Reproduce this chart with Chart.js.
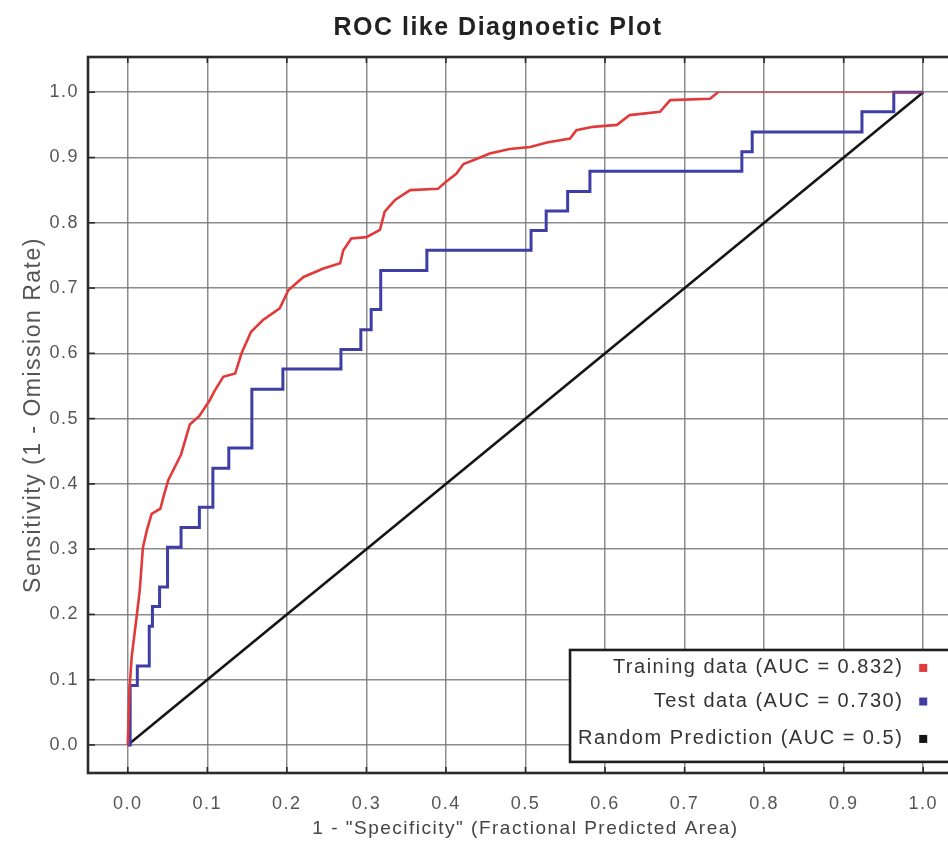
<!DOCTYPE html>
<html>
<head>
<meta charset="utf-8">
<title>ROC like Diagnoetic Plot</title>
<script src="https://cdn.jsdelivr.net/npm/chart.js@4/dist/chart.umd.min.js"></script>
<style>
  html, body { margin: 0; padding: 0; background: #ffffff; overflow: hidden; }
  #wrap { width: 948px; height: 845px; overflow: hidden; }
  canvas { display: block; }
</style>
</head>
<body>
<div id="wrap"><canvas id="roc" width="996" height="845"></canvas></div>
<script>
// Training curve (1 - specificity, sensitivity)
const trainFpr = [0, 0.002, 0.005, 0.010, 0.015, 0.019, 0.024, 0.030, 0.041, 0.046, 0.051, 0.067,
  0.078, 0.090, 0.103, 0.109, 0.120, 0.135, 0.143, 0.155, 0.170, 0.191, 0.202, 0.221, 0.246,
  0.267, 0.271, 0.281, 0.300, 0.317, 0.323, 0.336, 0.355, 0.390, 0.400, 0.413, 0.422, 0.439,
  0.455, 0.480, 0.506, 0.527, 0.556, 0.564, 0.585, 0.615, 0.631, 0.669, 0.682, 0.732, 0.742, 1.000];
const trainTpr = [0, 0.083, 0.136, 0.185, 0.236, 0.302, 0.329, 0.354, 0.362, 0.385, 0.406, 0.445,
  0.491, 0.504, 0.528, 0.542, 0.564, 0.569, 0.600, 0.633, 0.651, 0.669, 0.697, 0.717, 0.730,
  0.738, 0.758, 0.776, 0.778, 0.789, 0.817, 0.835, 0.850, 0.852, 0.863, 0.875, 0.890, 0.898,
  0.906, 0.913, 0.916, 0.923, 0.929, 0.942, 0.947, 0.950, 0.965, 0.970, 0.988, 0.990, 1.000, 1.000];

// Test curve: corner points of the step function
const testFpr = [0, 0.003, 0.012, 0.027, 0.031, 0.040, 0.050, 0.067, 0.090, 0.107, 0.127, 0.156,
  0.195, 0.268, 0.293, 0.306, 0.318, 0.376, 0.507, 0.526, 0.553, 0.581, 0.772, 0.785, 0.923, 0.963, 1.000];
const testTpr = [0, 0.091, 0.121, 0.182, 0.212, 0.242, 0.303, 0.333, 0.364, 0.424, 0.455, 0.545,
  0.576, 0.606, 0.636, 0.667, 0.727, 0.758, 0.788, 0.818, 0.848, 0.879, 0.909, 0.939, 0.970, 1.000, 1.000];

// Random prediction diagonal
const randomFpr = [0, 1];
const randomTpr = [0, 1];

const seriesLabels = ['Training data (AUC = 0.832)', 'Test data (AUC = 0.730)', 'Random Prediction (AUC = 0.5)'];
const tickValues = [0, 0.1, 0.2, 0.3, 0.4, 0.5, 0.6, 0.7, 0.8, 0.9, 1.0];
const tickLabels = ['0.0', '0.1', '0.2', '0.3', '0.4', '0.5', '0.6', '0.7', '0.8', '0.9', '1.0'];

const toPoints = (xs, ys) => xs.map((x, i) => ({ x: x, y: ys[i] }));

const RED = 'rgb(226, 58, 58)';
const BLUE = 'rgb(62, 62, 165)';
const BLACK = '#151515';
const FONT = "'Liberation Sans', Arial, sans-serif";

// Wide letter spacing for every text drawn on the canvas
const textSpacing = {
  id: 'textSpacing',
  beforeUpdate(chart) { chart.ctx.letterSpacing = '1.5px'; },
  beforeDraw(chart) { chart.ctx.letterSpacing = '1.5px'; }
};

// Plot frame with short inward tick marks
const plotFrame = {
  id: 'plotFrame',
  afterDatasetsDraw(chart) {
    const { ctx, chartArea: a, scales } = chart;
    const right = scales.x.getPixelForValue(1.05);
    ctx.save();
    ctx.strokeStyle = '#2b2b2b';
    ctx.lineWidth = 1.6;
    scales.x.ticks.forEach(t => {
      const px = scales.x.getPixelForValue(t.value);
      ctx.beginPath();
      ctx.moveTo(px, a.top); ctx.lineTo(px, a.top + 6);
      ctx.moveTo(px, a.bottom); ctx.lineTo(px, a.bottom - 6);
      ctx.stroke();
    });
    scales.y.ticks.forEach(t => {
      const py = scales.y.getPixelForValue(t.value);
      ctx.beginPath();
      ctx.moveTo(a.left, py); ctx.lineTo(a.left + 7, py);
      ctx.stroke();
    });
    ctx.lineWidth = 2.6;
    ctx.strokeRect(a.left, a.top, right - a.left, a.bottom - a.top);
    ctx.restore();
  }
};

// Boxed legend in the lower right corner: text right-aligned, colour square after it
const boxLegend = {
  id: 'boxLegend',
  afterDraw(chart) {
    const { ctx, scales } = chart;
    const x = scales.x, y = scales.y;
    const left = x.getPixelForValue(0.556);
    const right = x.getPixelForValue(1.046);
    const top = y.getPixelForValue(0.1455);
    const bottom = y.getPixelForValue(-0.026);
    const textRight = x.getPixelForValue(0.975);
    const square = x.getPixelForValue(1.0);
    const rows = [0.118, 0.0665, 0.0092];
    ctx.save();
    ctx.fillStyle = '#ffffff';
    ctx.fillRect(left, top, right - left, bottom - top);
    ctx.strokeStyle = '#1e1e1e';
    ctx.lineWidth = 2.6;
    ctx.strokeRect(left, top, right - left, bottom - top);
    ctx.font = '20px ' + FONT;
    ctx.textAlign = 'right';
    ctx.textBaseline = 'middle';
    chart.data.datasets.forEach((ds, i) => {
      const py = y.getPixelForValue(rows[i]);
      ctx.fillStyle = '#333333';
      ctx.fillText(ds.label, textRight, py);
      ctx.fillStyle = ds.borderColor;
      ctx.fillRect(square - 4, py - 4, 8, 8);
    });
    ctx.restore();
  }
};

new Chart(document.getElementById('roc'), {
  type: 'line',
  data: {
    datasets: [
      {
        label: seriesLabels[0],
        data: toPoints(trainFpr, trainTpr),
        borderColor: RED,
        borderWidth: 2.6,
        pointRadius: 0,
        fill: false,
        segment: {
          borderWidth: c => (trainTpr[c.p0DataIndex] >= 1 && trainTpr[c.p1DataIndex] >= 1) ? 1.2 : 2.6
        }
      },
      {
        label: seriesLabels[1],
        data: toPoints(testFpr, testTpr),
        borderColor: BLUE,
        borderWidth: 3,
        pointRadius: 0,
        stepped: 'before',
        fill: false
      },
      {
        label: seriesLabels[2],
        data: toPoints(randomFpr, randomTpr),
        borderColor: BLACK,
        borderWidth: 2.6,
        pointRadius: 0,
        fill: false
      }
    ]
  },
  options: {
    responsive: false,
    animation: false,
    devicePixelRatio: 1,
    layout: { padding: 0 },
    plugins: {
      legend: { display: false },
      tooltip: { enabled: false },
      title: {
        display: true,
        text: 'ROC like Diagnoetic Plot',
        color: '#222222',
        font: { family: FONT, size: 25, weight: 'bold' },
        padding: { top: 13, bottom: 14 }
      }
    },
    scales: {
      x: {
        type: 'linear',
        min: -0.05,
        max: 1.0915,
        afterBuildTicks: s => { s.ticks = tickValues.map(v => ({ value: v })); },
        afterFit: s => { s.height = 72; },
        grid: { color: 'rgba(120,120,120,0.85)', lineWidth: 1.5, drawTicks: false },
        border: { display: false },
        ticks: {
          padding: 20,
          color: '#555555',
          font: { family: FONT, size: 18 },
          maxRotation: 0,
          callback: (v, i) => tickLabels[i]
        },
        title: {
          display: false,
          text: '1 - "Specificity" (Fractional Predicted Area)'
        }
      },
      y: {
        type: 'linear',
        min: -0.043,
        max: 1.054,
        afterBuildTicks: s => { s.ticks = tickValues.map(v => ({ value: v })); },
        afterFit: s => { s.width = 88; },
        grid: { color: 'rgba(120,120,120,0.85)', lineWidth: 1.5, drawTicks: false },
        border: { display: false },
        ticks: {
          padding: 9,
          color: '#555555',
          font: { family: FONT, size: 18 },
          callback: (v, i) => tickLabels[i]
        },
        title: {
          display: true,
          text: 'Sensitivity (1 - Omission Rate)',
          color: '#555555',
          font: { family: FONT, size: 23 },
          padding: { top: 20, bottom: 0 }
        }
      }
    }
  },
  plugins: [textSpacing, plotFrame, boxLegend, {
    // x-axis caption centred under the framed plot (the frame runs past the right edge)
    id: 'xCaption',
    afterDraw(chart) {
      const { ctx, scales } = chart;
      const x = scales.x;
      const cx = (x.left + x.getPixelForValue(1.05)) / 2;
      ctx.save();
      ctx.font = '19px ' + FONT;
      ctx.fillStyle = '#444444';
      ctx.textAlign = 'center';
      ctx.textBaseline = 'middle';
      ctx.fillText(chart.options.scales.x.title.text, cx, 829);
      ctx.restore();
    }
  }]
});
</script>
</body>
</html>
